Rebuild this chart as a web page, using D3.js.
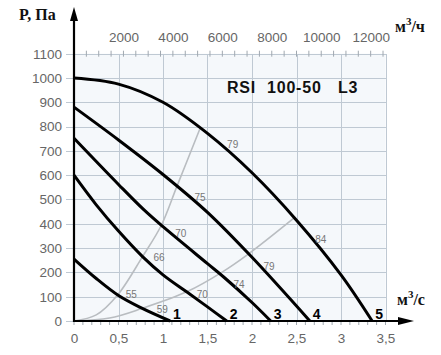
<!DOCTYPE html>
<html><head><meta charset="utf-8">
<script src="https://cdn.jsdelivr.net/npm/d3@7/dist/d3.min.js"></script>
<style>
html,body{margin:0;padding:0;background:#fff;}
svg{display:block;}
</style></head>
<body>
<svg id="chart" width="441" height="355"></svg>
<script>
// Flow (m³/s) and pressure (Pa) points of the fan curves 1..5
const curve1 = [[0,255],[0.25,175],[0.5,105],[0.75,55],[1.08,0]];
const curve2 = [[0,600],[0.25,478],[0.5,370],[0.77,265],[1.0,190],[1.273,118],[1.5,58],[1.716,0]];
const curve3 = [[0,752],[0.5,562],[0.787,457],[1.0,388],[1.5,236],[1.685,180],[2.0,76],[2.21,0]];
const curve4 = [[0,880],[0.5,745],[1.0,603],[1.5,447],[2.0,262],[2.65,0]];
const curve5 = [[0,1000],[0.5,975],[1.0,900],[1.5,772],[2.0,610],[2.5,415],[3.0,190],[3.35,0]];
const fanCurves = [curve1, curve2, curve3, curve4, curve5];
const curveNames = ["1","2","3","4","5"];
// grey guide lines
const guide1 = [[0,0],[0.25,25],[0.49,107],[0.77,265],[0.98,393],[1.155,553],[1.416,792]];
const guide2 = [[0,0],[0.4,12],[0.767,52],[1.273,121],[1.66,200],[1.947,272],[2.47,423]];
// labels along the guide lines: [flow, pressure, text] (text centres)
const guideLabels1 = [[0.644,110,"55"],[0.955,262,"66"],[1.199,361,"70"],[1.416,509,"75"],[1.783,728,"79"]];
const guideLabels2 = [[0.992,49,"59"],[1.442,111,"70"],[1.854,152,"74"],[2.191,223,"79"],[2.772,336,"84"]];
// axis ticks
const yTicks = [0,100,200,300,400,500,600,700,800,900,1000,1100];
const xTicks = [0,0.5,1,1.5,2,2.5,3,3.5];
const xTickLabels = ["0","0,5","1","1,5","2","2,5","3","3,5"];
const topTicks = [2000,4000,6000,8000,10000,12000];
const title = ["RSI","100-50","L3"];

const svg = d3.select("#chart");
const x = d3.scaleLinear().domain([0,3.5]).range([74,385.5]);
const y = d3.scaleLinear().domain([0,1100]).range([321,53.7]);
const xTop = d3.scaleLinear().domain([0,3.5*3600]).range([74,385.5]);

// plot background
svg.append("rect").attr("x",x(0)).attr("y",y(1100)).attr("width",x(3.5)-x(0)).attr("height",y(0)-y(1100))
  .attr("fill","#f5f8fb");

// grid
const grid = svg.append("g").attr("stroke","#bfc9d3").attr("stroke-width",1).attr("shape-rendering","crispEdges");
yTicks.forEach(v=>{grid.append("line").attr("x1",x(0)-8).attr("x2",x(3.5)).attr("y1",Math.round(y(v))+0.5).attr("y2",Math.round(y(v))+0.5);});
xTicks.forEach(v=>{grid.append("line").attr("x1",Math.round(x(v))+0.5).attr("x2",Math.round(x(v))+0.5).attr("y1",y(0)).attr("y2",y(1100));});

const sans = "Liberation Sans, Arial, sans-serif";
// axes with d3 axis generators
const leftAxis = d3.axisLeft(y).tickValues(yTicks).tickSize(0).tickPadding(12).tickFormat(d3.format("d"));
const gL = svg.append("g").attr("transform",`translate(${x(0)},0)`).call(leftAxis);
gL.select(".domain").remove();
gL.selectAll("text").attr("font-family",sans).attr("font-size",13.5).attr("fill","#666");

const bottomAxis = d3.axisBottom(x).tickValues(xTicks).tickSize(0).tickPadding(12).tickFormat((d,i)=>xTickLabels[i]);
const gB = svg.append("g").attr("transform",`translate(0,${y(0)})`).call(bottomAxis);
gB.select(".domain").remove();
gB.selectAll("text").attr("font-family",sans).attr("font-size",13.5).attr("fill","#666");

const topAxis = d3.axisTop(xTop).tickValues(topTicks).tickSize(0).tickPadding(12).tickFormat(d3.format("d"));
const gT = svg.append("g").attr("transform",`translate(0,${y(1100)})`).call(topAxis);
gT.select(".domain").remove();
gT.selectAll("text").attr("font-family",sans).attr("font-size",13.5).attr("fill","#666");

// minor ticks along top and bottom
const minorTop = d3.range(0,12600,500);
svg.append("g").selectAll("line").data(minorTop).join("line")
  .attr("x1",d=>xTop(d)).attr("x2",d=>xTop(d)).attr("y1",y(1100)-3).attr("y2",y(1100)+3)
  .attr("stroke","#a0a8b0").attr("stroke-width",1);
const minorBottom = d3.range(0,3.51,0.1);
svg.append("g").selectAll("line").data(minorBottom).join("line")
  .attr("x1",d=>x(d)).attr("x2",d=>x(d)).attr("y1",y(0)).attr("y2",y(0)+4)
  .attr("stroke","#a0a8b0").attr("stroke-width",1);

// guide lines
const line = d3.line().x(d=>x(d[0])).y(d=>y(d[1])).curve(d3.curveCatmullRom.alpha(0.5));
[guide1,guide2].forEach(g=>{
  svg.append("path").attr("d",line(g)).attr("fill","none").attr("stroke","#b9bdc1").attr("stroke-width",1.6);
});
// fan curves
fanCurves.forEach(c=>{
  svg.append("path").attr("d",line(c)).attr("fill","none").attr("stroke","#000").attr("stroke-width",3);
});
// guide labels
guideLabels1.concat(guideLabels2).forEach(l=>{
  svg.append("text").attr("x",x(l[0])).attr("y",y(l[1])+3.5).attr("text-anchor","middle").text(l[2])
    .attr("font-family",sans).attr("font-size",10).attr("fill","#777");
});
// curve numbers
fanCurves.forEach((c,i)=>{
  const end = c[c.length-1];
  svg.append("text").attr("x",x(end[0])+3).attr("y",y(0)-2).text(curveNames[i])
    .attr("font-family",sans).attr("font-size",14).attr("font-weight","bold").attr("fill","#000");
});

// axis lines with arrows
svg.append("line").attr("x1",x(0)).attr("x2",x(0)).attr("y1",y(0)+1).attr("y2",18).attr("stroke","#000").attr("stroke-width",2.2);
svg.append("path").attr("d",`M${x(0)},7 L${x(0)-4},21 L${x(0)+4},21 Z`).attr("fill","#000");
svg.append("line").attr("x1",x(0)-1).attr("x2",402).attr("y1",y(0)).attr("y2",y(0)).attr("stroke","#000").attr("stroke-width",2.2);
svg.append("path").attr("d",`M414,${y(0)} L398,${y(0)-4} L398,${y(0)+4} Z`).attr("fill","#000");

// axis titles
const serif = "Liberation Serif, Times New Roman, serif";
svg.append("text").attr("x",19).attr("y",20).text("P, Па").attr("font-family",serif).attr("font-size",16).attr("font-weight","bold").attr("fill","#111");
const tq = svg.append("text").attr("x",397).attr("y",305).attr("font-family",serif).attr("font-size",16).attr("font-weight","bold").attr("fill","#111");
tq.append("tspan").text("м");
tq.append("tspan").text("3").attr("font-size",11).attr("dy",-7);
tq.append("tspan").text("/с").attr("dy",7);
const th = svg.append("text").attr("x",395).attr("y",32).attr("font-family",serif).attr("font-size",16).attr("font-weight","bold").attr("fill","#111");
th.append("tspan").text("м");
th.append("tspan").text("3").attr("font-size",11).attr("dy",-7);
th.append("tspan").text("/ч").attr("dy",7);

// title
const tx = [227,267,338];
title.forEach((t,i)=>{
  svg.append("text").attr("x",tx[i]).attr("y",93).text(t).attr("font-family",sans)
    .attr("font-size",16).attr("font-weight","bold").attr("fill","#111").attr("letter-spacing",0.8);
});
</script>
</body></html>
